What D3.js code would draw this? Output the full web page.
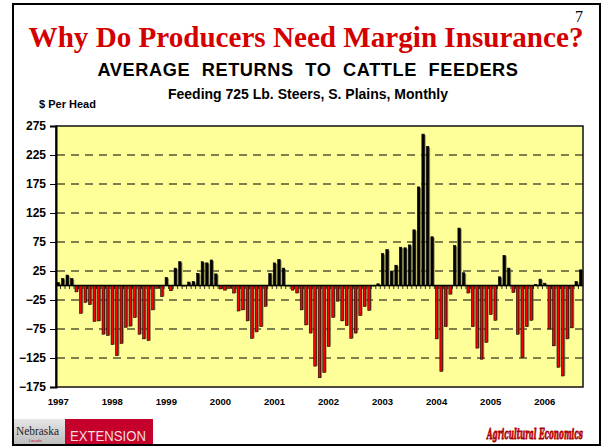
<!DOCTYPE html>
<html><head><meta charset="utf-8">
<script src="https://cdn.jsdelivr.net/npm/d3@7"></script>
<style>html,body{margin:0;padding:0;background:#fff}</style>
</head><body>
<svg id="chart" width="602" height="447"></svg>
<script>
// ---- data ----
const years = ["1997","1998","1999","2000","2001","2002","2003","2004","2005","2006"];
const monthNames = ["Jan","Feb","Mar","Apr","May","Jun","Jul","Aug","Sep","Oct","Nov","Dec"];
const yTickValues = [275,225,175,125,75,25,-25,-75,-125,-175];
const gridValues = [225,175,125,75,25,-25,-75,-125];
// Average returns, $ per head, monthly Jan 1997 - Sep 2006
const returns = [
  5, 12, 18, 12, -11, -48, -29, -33, -62, -61, -84, -86,
  -102, -121, -100, -72, -70, -55, -84, -92, -95, -42, -5, -19,
  14, -9, 30, 41, -1, 6, 7, 21, 41, 39, 44, 20,
  -6, -8, -5, -13, -44, -42, -61, -91, -80, -71, -36, 21,
  39, 45, 30, -1, -8, -13, -42, -68, -82, -139, -159, -150,
  -105, -55, -27, -61, -69, -91, -82, -52, -36, -43, -1, 3,
  55, 62, 25, 35, 66, 65, 70, 96, 170, 261, 240, 84,
  -92, -148, -71, -15, 69, 99, 22, -13, -71, -108, -127, -98,
  -50, -60, 15, 52, 30, -12, -84, -124, -71, -60, 2, 11,
  4, -75, -104, -141, -156, -92, -73, 7, 27
];
const titleText = "Why Do Producers Need Margin Insurance?";
const subtitleText = "AVERAGE RETURNS TO CATTLE FEEDERS";
const subtitle2Text = "Feeding 725 Lb. Steers, S. Plains, Monthly";
const yAxisTitle = "$ Per Head";
const slideNumber = "7";
const logoLeft = "Nebraska";
const logoLeftSmall = "Lincoln";
const logoRight = "EXTENSION";
const footerText = "Agricultural Economics";

const categories = years.flatMap(y => monthNames.map(m => m + " " + y)).slice(0, returns.length);

// ---- layout ----
const svg = d3.select("#chart");
const plot = {left: 56, right: 583, top: 126, bottom: 387};

const x = d3.scaleBand().domain(categories).range([plot.left, plot.right]).paddingInner(0).paddingOuter(0);
const y = d3.scaleLinear().domain([-175, 275]).range([plot.bottom, plot.top]);

// outer slide frame
svg.append("rect").attr("x", 13).attr("y", 4).attr("width", 587).attr("height", 441)
  .attr("fill", "#fff").attr("stroke", "#000").attr("stroke-width", 2);

function fitText(sel, target) {
  const len = sel.node().getComputedTextLength();
  const fs = parseFloat(sel.attr("font-size"));
  sel.attr("font-size", (fs * target / len).toFixed(2));
}
const t = svg.append("text").attr("x", 306).attr("y", 47).attr("text-anchor", "middle")
  .attr("font-family", "'Liberation Serif','Times New Roman',serif").attr("font-weight", "bold")
  .attr("font-size", 30).attr("fill", "#d40000").text(titleText);
fitText(t, 555);

svg.append("text").attr("x", 579).attr("y", 22).attr("text-anchor", "middle")
  .attr("font-family", "'Liberation Serif','Times New Roman',serif")
  .attr("font-size", 16).attr("fill", "#000").text(slideNumber);

const st = svg.append("text").attr("x", 308).attr("y", 76).attr("text-anchor", "middle")
  .attr("font-family", "'Liberation Sans',Arial,sans-serif").attr("font-weight", "bold")
  .attr("font-size", 16).attr("fill", "#000")
  .attr("word-spacing", 6).attr("letter-spacing", 0.6)
  .text(subtitleText);
fitText(st, 427);

svg.append("text").attr("x", 308).attr("y", 99).attr("text-anchor", "middle")
  .attr("font-family", "'Liberation Sans',Arial,sans-serif").attr("font-weight", "bold")
  .attr("font-size", 14).attr("fill", "#000").text(subtitle2Text);

svg.append("text").attr("x", 39).attr("y", 108)
  .attr("font-family", "'Liberation Sans',Arial,sans-serif").attr("font-weight", "bold")
  .attr("font-size", 11).attr("fill", "#000").text(yAxisTitle);

// plot background
svg.append("rect").attr("x", plot.left).attr("y", plot.top)
  .attr("width", plot.right - plot.left).attr("height", plot.bottom - plot.top)
  .attr("fill", "#ffff99");

// gridlines
svg.append("g").selectAll("line").data(gridValues).join("line")
  .attr("x1", plot.left + 1).attr("x2", plot.right)
  .attr("y1", d => y(d)).attr("y2", d => y(d))
  .attr("stroke", "#000").attr("stroke-width", 1).attr("stroke-dasharray", "8,6");

// bars
const bw = x.bandwidth() * 0.55;
const barG = svg.append("g");
barG.selectAll("rect.shadow").data(returns).join("rect").attr("class", "shadow")
  .attr("x", (d, i) => x(categories[i]) + (x.bandwidth() - bw) / 2 + 1.3)
  .attr("y", d => Math.min(y(d), y(0)) + (d >= 0 ? 1 : 0))
  .attr("width", bw)
  .attr("height", d => Math.abs(y(d) - y(0)))
  .attr("fill", "#6e6a3a").attr("opacity", 0.75);
barG.selectAll("rect.bar").data(returns).join("rect").attr("class", "bar")
  .attr("x", (d, i) => x(categories[i]) + (x.bandwidth() - bw) / 2)
  .attr("y", d => Math.min(y(d), y(0)))
  .attr("width", bw)
  .attr("height", d => Math.abs(y(d) - y(0)))
  .attr("fill", d => d < 0 ? "#ff0000" : "#000")
  .attr("stroke", "#000").attr("stroke-width", 0.6);

// zero axis with month tick marks
svg.append("line").attr("x1", plot.left).attr("x2", plot.right)
  .attr("y1", y(0)).attr("y2", y(0)).attr("stroke", "#000").attr("stroke-width", 1.5);
svg.append("g").selectAll("line").data(categories).join("line")
  .attr("x1", d => x(d)).attr("x2", d => x(d))
  .attr("y1", y(0)).attr("y2", y(0) + 3.5)
  .attr("stroke", "#000").attr("stroke-width", 0.8);

// plot frame
svg.append("rect").attr("x", plot.left).attr("y", plot.top)
  .attr("width", plot.right - plot.left).attr("height", plot.bottom - plot.top)
  .attr("fill", "none").attr("stroke", "#111").attr("stroke-width", 1.5);

// y axis
const yAxis = d3.axisLeft(y).tickValues(yTickValues).tickSize(6).tickPadding(4);
const ya = svg.append("g").attr("transform", `translate(${plot.left},0)`).call(yAxis);
ya.select(".domain").attr("stroke", "#000").attr("stroke-width", 2);
ya.selectAll(".tick line").attr("stroke", "#000").attr("stroke-width", 1);
ya.selectAll("text").attr("font-family", "'Liberation Sans',Arial,sans-serif")
  .attr("font-weight", "bold").attr("font-size", 12).attr("fill", "#000");

// x axis year labels
const yearCats = years.map(yr => "Jan " + yr);
const xAxis = d3.axisBottom(x).tickValues(yearCats).tickSize(0).tickPadding(11)
  .tickFormat(d => d.split(" ")[1]);
const xa = svg.append("g").attr("transform", `translate(0,${plot.bottom})`).call(xAxis);
xa.select(".domain").remove();
xa.selectAll("text").attr("font-family", "'Liberation Sans',Arial,sans-serif")
  .attr("font-weight", "bold").attr("font-size", 9.5).attr("fill", "#000");

// footer logos
const defs = svg.append("defs");
const grad = defs.append("linearGradient").attr("id", "gray").attr("x1", 0).attr("x2", 0).attr("y1", 0).attr("y2", 1);
grad.append("stop").attr("offset", "0%").attr("stop-color", "#e6e6e6");
grad.append("stop").attr("offset", "100%").attr("stop-color", "#bdbdbd");
svg.append("rect").attr("x", 14).attr("y", 419).attr("width", 51).attr("height", 25).attr("fill", "url(#gray)");
svg.append("rect").attr("x", 65).attr("y", 419).attr("width", 88).attr("height", 25).attr("fill", "#c4002b");
const nb = svg.append("text").attr("x", 0).attr("y", 0)
  .attr("font-family", "'Liberation Serif','Times New Roman',serif")
  .attr("font-size", 13).attr("fill", "#222").text(logoLeft);
fitText(nb, 43);
nb.attr("transform", `translate(16,435) scale(1,${(13 / parseFloat(nb.attr("font-size"))).toFixed(3)})`);
svg.append("text").attr("x", 29).attr("y", 442)
  .attr("font-family", "'Liberation Sans',Arial,sans-serif")
  .attr("font-size", 4).attr("fill", "#c4002b").text(logoLeftSmall);
const ex = svg.append("text").attr("x", 0).attr("y", 0)
  .attr("font-family", "'Liberation Sans',Arial,sans-serif")
  .attr("font-size", 15).attr("fill", "#f3dede").text(logoRight);
fitText(ex, 76);
ex.attr("transform", `translate(70,441) scale(1,${(15 / parseFloat(ex.attr("font-size"))).toFixed(3)})`);

// footer: condensed by measuring natural width, then stretching vertically
const ft = svg.append("text").attr("x", 0).attr("y", 0)
  .attr("font-family", "'DejaVu Serif',serif").attr("font-weight", "bold").attr("font-style", "italic")
  .attr("font-size", 15).attr("fill", "#d40000").attr("stroke", "#a00000").attr("stroke-width", 0.4)
  .text(footerText);
fitText(ft, 96);
const fScale = 15 / parseFloat(ft.attr("font-size"));
ft.attr("transform", `translate(487,439) scale(1,${fScale.toFixed(3)})`);
</script>
</body></html>
